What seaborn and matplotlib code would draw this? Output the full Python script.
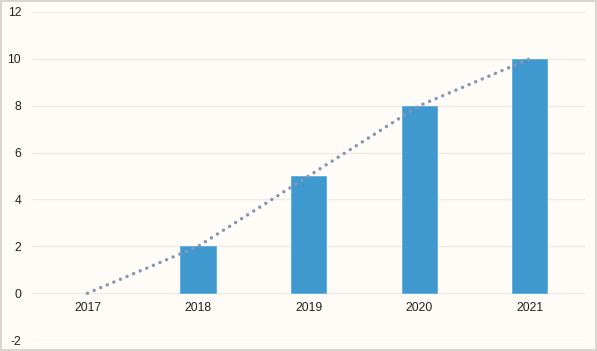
import matplotlib
matplotlib.use("Agg")
import matplotlib.pyplot as plt
import seaborn as sns
import pandas as pd

# data
years = ["2017", "2018", "2019", "2020", "2021"]
values = [0, 2, 5, 8, 10]
y_ticks = [-2, 0, 2, 4, 6, 8, 10, 12]

bg = "#fffcf7"
bar_color = "#3f99cf"
line_color = "#8796b4"

sns.set_style("white")
plt.rcParams["font.family"] = ["Liberation Sans", "DejaVu Sans"]
plt.rcParams["axes.unicode_minus"] = False

df = pd.DataFrame({"year": years, "value": values})

fig = plt.figure(figsize=(5.97, 3.51), dpi=100, facecolor=bg,
                 edgecolor="#d9d6d2", linewidth=1.5)
ax = fig.add_axes([0.054, 0.031, 0.926, 0.935])
ax.set_facecolor(bg)

sns.barplot(data=df, x="year", y="value", color=bar_color, width=0.32,
            saturation=1, ax=ax, zorder=2)
for p in ax.patches:
    if p.get_height() != 0:
        p.set_edgecolor("#5aaee0")
        p.set_linewidth(0.6)
    else:
        p.set_linewidth(0)

ax.plot(range(len(years)), values, color=line_color, linewidth=2.5,
        linestyle=(0, (0.01, 2.05)), dash_capstyle="round", zorder=3)

ax.set_ylim(-2, 12)
ax.set_xlim(-0.5, len(years) - 0.5)
ax.set_yticks(y_ticks)
ax.yaxis.grid(True, color="#efebe5", linewidth=1)
ax.set_axisbelow(True)
ax.spines["bottom"].set_position(("data", 0))
for s in ax.spines.values():
    s.set_visible(False)
ax.tick_params(axis="both", length=0, labelsize=8.7, colors="#222222")
ax.tick_params(axis="y", pad=8)
ax.tick_params(axis="x", pad=6)
ax.set_xlabel("")
ax.set_ylabel("")

fig.savefig("out.png", dpi=100, facecolor=bg, edgecolor=fig.get_edgecolor())
